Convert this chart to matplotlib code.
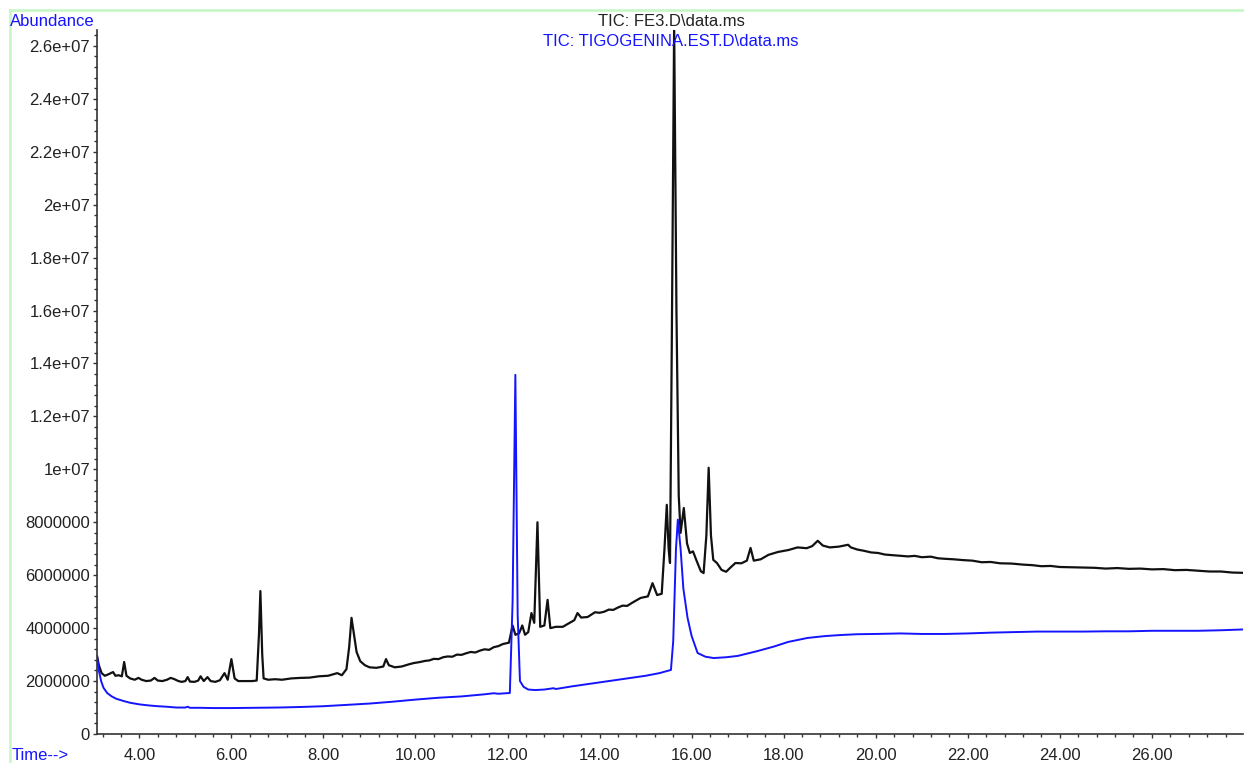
#! /usr/bin/env python3

import matplotlib
matplotlib.use("Agg")
import matplotlib.pyplot as plt
from matplotlib.lines import Line2D
from matplotlib.ticker import MultipleLocator, FixedLocator, FixedFormatter

"""
Données lues sur le chromatogramme (temps en min, abondance en millions).
"""

fe3_time = [
    3.08, 3.12, 3.18, 3.25, 3.32, 3.43, 3.48, 3.55, 3.62, 3.67, 3.72, 3.80,
    3.90, 3.98, 4.05, 4.15, 4.25, 4.33, 4.40, 4.50, 4.60, 4.68, 4.75, 4.85,
    4.92, 5.00, 5.05, 5.10, 5.20, 5.28, 5.33, 5.40, 5.48, 5.55, 5.65, 5.75,
    5.85, 5.92, 6.00, 6.07, 6.15, 6.30, 6.45, 6.55, 6.60, 6.63, 6.67, 6.70,
    6.80, 6.95, 7.10, 7.30, 7.50, 7.70, 7.90, 8.10, 8.30, 8.40, 8.50, 8.56,
    8.61, 8.66, 8.72, 8.80, 8.90, 9.00, 9.15, 9.30, 9.36, 9.42, 9.55, 9.70,
    9.85, 9.96, 10.10, 10.20, 10.30, 10.40, 10.50, 10.60, 10.70, 10.80,
    10.90, 11.00, 11.10, 11.20, 11.30, 11.40, 11.50, 11.60, 11.70, 11.80,
    11.90, 12.03, 12.11, 12.17, 12.25, 12.32, 12.38, 12.45, 12.52,
    12.58, 12.65, 12.71, 12.80, 12.87, 12.93, 13.05, 13.20, 13.35, 13.45,
    13.52, 13.60, 13.74, 13.90, 14.00, 14.10, 14.20, 14.30, 14.40, 14.50,
    14.60, 14.70, 14.80, 14.89, 15.05,
    15.15, 15.25, 15.35, 15.41, 15.46, 15.50, 15.53, 15.57, 15.62, 15.67,
    15.72, 15.76, 15.83, 15.90, 15.96, 16.03, 16.10, 16.20, 16.26, 16.32,
    16.37, 16.42, 16.47, 16.55, 16.65, 16.75, 16.85, 16.95, 17.08, 17.20,
    17.28, 17.35, 17.50, 17.67, 17.88, 18.10, 18.30, 18.50, 18.62, 18.74,
    18.85, 19.00, 19.20, 19.40, 19.46, 19.60, 19.75, 19.90, 20.05, 20.20,
    20.35, 20.50, 20.70, 20.85, 21.00, 21.20, 21.35, 21.50, 21.70, 21.90,
    22.10, 22.30, 22.50, 22.70, 22.95, 23.20, 23.40, 23.60, 23.80, 24.00,
    24.25, 24.50, 24.75, 25.00, 25.25, 25.50, 25.75, 26.00, 26.25, 26.50,
    26.75, 27.00, 27.25, 27.50, 27.75, 27.98,
]
fe3_abund = [
    2.95, 2.60, 2.30, 2.20, 2.25, 2.34, 2.20, 2.22, 2.18, 2.72, 2.20, 2.10,
    2.05, 2.12, 2.05, 2.00, 2.02, 2.12, 2.02, 2.00, 2.05, 2.12, 2.08, 2.00,
    1.97, 2.00, 2.15, 1.98, 1.97, 2.02, 2.18, 2.00, 2.15, 2.00, 1.97, 2.03,
    2.30, 2.05, 2.83, 2.10, 2.00, 2.00, 2.00, 2.02, 3.80, 5.40, 3.00, 2.10,
    2.05, 2.07, 2.05, 2.10, 2.12, 2.13, 2.18, 2.20, 2.30, 2.22, 2.45, 3.30,
    4.39, 3.80, 3.10, 2.75, 2.60, 2.52, 2.50, 2.55, 2.83, 2.60, 2.52, 2.55,
    2.63, 2.68, 2.72, 2.76, 2.78, 2.84, 2.83, 2.90, 2.93, 2.92,
    3.00, 2.99, 3.05, 3.10, 3.08, 3.15, 3.20, 3.18, 3.28, 3.32,
    3.40, 3.45, 4.10, 3.75, 3.80, 4.10, 3.75, 3.85, 4.57,
    4.20, 8.00, 4.05, 4.10, 5.07, 4.00, 4.05, 4.05, 4.20, 4.30,
    4.57, 4.40, 4.42, 4.60, 4.58, 4.62, 4.70, 4.69, 4.78, 4.85,
    4.84, 4.95, 5.05, 5.14, 5.20,
    5.70, 5.25, 5.30, 7.00, 8.66, 7.00, 6.46, 15.0, 26.8, 16.0,
    9.00, 7.60, 8.54, 7.20, 6.84, 6.90, 6.58, 6.15, 6.08, 7.50,
    10.06, 7.50, 6.58, 6.46, 6.20, 6.13, 6.30, 6.46, 6.45, 6.55,
    7.03, 6.55, 6.60, 6.77, 6.88, 6.95, 7.05, 7.02, 7.10, 7.30,
    7.12, 7.05, 7.08, 7.15, 7.05, 6.97, 6.92, 6.86, 6.84, 6.78,
    6.76, 6.74, 6.71, 6.73, 6.68, 6.70, 6.64, 6.62, 6.60, 6.57,
    6.55, 6.49, 6.50, 6.45, 6.44, 6.40, 6.38, 6.34, 6.35, 6.31,
    6.30, 6.29, 6.28, 6.25, 6.27, 6.24, 6.25, 6.22, 6.23, 6.19,
    6.20, 6.17, 6.14, 6.14, 6.10, 6.09,
]

tigo_time = [
    3.08, 3.12, 3.17, 3.22, 3.30, 3.40, 3.50, 3.65, 3.80, 4.00, 4.20, 4.40,
    4.60, 4.80, 5.00, 5.05, 5.10, 5.30, 5.60, 6.00, 6.50, 7.00, 7.50, 8.00,
    8.50, 9.00, 9.50, 10.00, 10.50, 11.00, 11.50, 11.70, 11.80, 12.05,
    12.11, 12.17, 12.22, 12.27, 12.35, 12.45, 12.60, 12.80, 13.00, 13.05,
    13.40, 13.80, 14.20, 14.60, 15.00, 15.30, 15.55, 15.60, 15.66, 15.70,
    15.76, 15.82, 15.91, 16.00, 16.13, 16.30, 16.48, 16.75, 17.00, 17.40,
    17.78, 18.10, 18.52, 18.90, 19.24, 19.60, 20.00, 20.54, 21.00, 21.50,
    22.00, 22.50, 23.00, 23.50, 24.00, 24.50, 25.00, 25.50, 26.00, 26.50,
    27.00, 27.50, 27.98,
]
tigo_abund = [
    2.95, 2.40, 2.00, 1.75, 1.55, 1.42, 1.33, 1.25, 1.18, 1.12, 1.08, 1.05,
    1.03, 1.00, 1.00, 1.03, 0.99, 0.99, 0.98, 0.98, 0.99, 1.00, 1.02, 1.05,
    1.10, 1.15, 1.22, 1.30, 1.37, 1.42, 1.50, 1.54, 1.52, 1.55,
    5.00, 13.57, 4.50, 2.00, 1.78, 1.68, 1.66, 1.68, 1.73, 1.70,
    1.80, 1.90, 2.00, 2.10, 2.20, 2.30, 2.42, 3.50, 7.00, 8.10,
    7.00, 5.50, 4.40, 3.70, 3.06, 2.92, 2.87, 2.90, 2.95, 3.12,
    3.30, 3.48, 3.63, 3.70, 3.74, 3.77, 3.78, 3.80, 3.78, 3.78,
    3.80, 3.83, 3.85, 3.87, 3.87, 3.87, 3.88, 3.88, 3.90, 3.90,
    3.90, 3.92, 3.95,
]

x_ticks  = [4, 6, 8, 10, 12, 14, 16, 18, 20, 22, 24, 26]
y_ticks  = [0, 2e6, 4e6, 6e6, 8e6, 1e7, 1.2e7, 1.4e7, 1.6e7, 1.8e7, 2e7,
            2.2e7, 2.4e7, 2.6e7]
y_labels = ["0", "2000000", "4000000", "6000000", "8000000", "1e+07",
            "1.2e+07", "1.4e+07", "1.6e+07", "1.8e+07", "2e+07", "2.2e+07",
            "2.4e+07", "2.6e+07"]

"""
Tracé.
"""

W, H = 1244, 763
blue  = "#1414ff"
tcol  = "#222222"

plt.rcParams["font.family"] = ["Liberation Sans", "DejaVu Sans"]

fig = plt.figure(figsize = (W / 100, H / 100), dpi = 100)
ax  = fig.add_axes([97 / W, 1 - 734 / H, (1243 - 97) / W, (734 - 30) / H])

ax.plot(fe3_time, [a * 1e6 for a in fe3_abund], color = "#111111", lw = 1.6)
ax.plot(tigo_time, [a * 1e6 for a in tigo_abund], color = blue, lw = 1.4)

ax.set_xlim(3.08, 27.98)
ax.set_ylim(0, 2.66e7)

ax.xaxis.set_major_locator(FixedLocator(x_ticks))
ax.xaxis.set_major_formatter(FixedFormatter(["%.2f" % t for t in x_ticks]))
ax.xaxis.set_minor_locator(MultipleLocator(0.4))
ax.yaxis.set_major_locator(FixedLocator(y_ticks))
ax.yaxis.set_major_formatter(FixedFormatter(y_labels))
ax.yaxis.set_minor_locator(MultipleLocator(4e5))

ax.tick_params(which = "both", direction = "out", color = "#333333",
               width = 1.0, labelsize = 12, labelcolor = tcol)
ax.tick_params(which = "major", length = 3)
ax.tick_params(which = "minor", length = 2.5)
ax.tick_params("x", pad = 7)
ax.tick_params("y", pad = 2)

for side in ("top", "right"):
    ax.spines[side].set_visible(False)
for side in ("left", "bottom"):
    ax.spines[side].set_color("#333333")
    ax.spines[side].set_linewidth(1.2)

# cadre vert clair
fig.add_artist(Line2D([10 / W, 1], [1 - 10 / H, 1 - 10 / H], color = "#c4f7c4", lw = 1.8))
fig.add_artist(Line2D([10 / W, 10 / W], [0, 1 - 10 / H], color = "#c4f7c4", lw = 1.8))

fig.text(10 / W, 1 - 21 / H, "Abundance", color = blue, fontsize = 12, va = "center")
fig.text(12 / W, 1 - 755 / H, "Time-->", color = blue, fontsize = 12, va = "center")
fig.text(671 / W, 1 - 21 / H, "TIC: FE3.D\\data.ms", color = tcol, fontsize = 12,
         ha = "center", va = "center")
fig.text(671 / W, 1 - 42 / H, "TIC: TIGOGENINA.EST.D\\data.ms", color = blue,
         fontsize = 12, ha = "center", va = "center")

fig.savefig("out.png", dpi = 100)
